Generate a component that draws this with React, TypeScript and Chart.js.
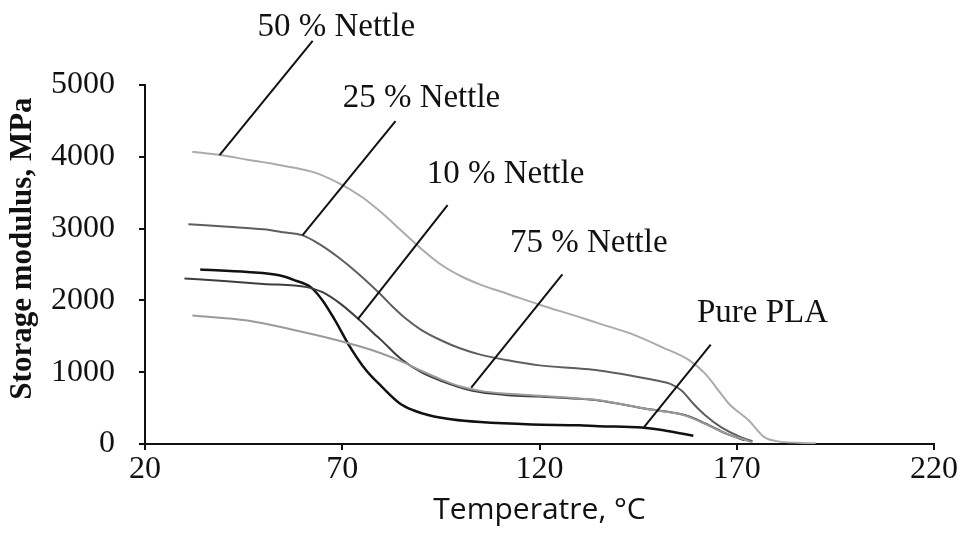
import React, { useEffect, useRef } from "react";
import { Chart, registerables } from "chart.js";

Chart.register(...registerables);

// ---- data (temperature °C, storage modulus MPa) ----
const pla_T = [34, 46, 54, 58, 62, 65, 68, 72, 76, 80, 84.6, 88, 92, 98, 105, 118, 130, 135, 146, 152, 159];
const pla_E = [2430, 2395, 2350, 2280, 2185, 2000, 1740, 1350, 1030, 800, 565, 470, 400, 340, 305, 272, 260, 248, 230, 185, 115];

const n10_T = [30, 40, 50, 61, 65, 69.5, 74.5, 78, 80, 85, 90, 95, 103, 112, 120, 130, 135, 147, 157, 162, 167.5, 172];
const n10_E = [2305, 2270, 2230, 2185, 2115, 1955, 1720, 1540, 1440, 1180, 1000, 880, 740, 680, 660, 630, 607, 490, 400, 285, 140, 50];

const n25_T = [31, 41, 50, 55, 60, 64, 69, 74, 79.5, 83, 86, 90, 95, 100, 105, 112, 120, 130, 135, 143, 150, 153, 156, 159, 162, 166, 171, 174];
const n25_E = [3060, 3025, 2990, 2950, 2905, 2790, 2600, 2375, 2095, 1900, 1750, 1590, 1445, 1330, 1245, 1165, 1095, 1050, 1025, 955, 880, 840, 745, 560, 400, 235, 95, 40];

const n50_T = [32, 39, 46, 54, 62.5, 68.5, 75, 80, 85, 90, 95, 100, 105, 112, 120, 130, 135, 143, 151, 158, 162, 166, 168, 173, 177, 180, 190];
const n50_E = [4070, 4025, 3960, 3885, 3790, 3650, 3440, 3220, 2970, 2720, 2500, 2340, 2220, 2090, 1940, 1770, 1680, 1540, 1350, 1165, 980, 700, 560, 330, 95, 40, 10];

const n75_T = [32, 46, 58, 67, 75, 80, 85, 90, 95, 100, 105, 112, 120, 130, 135, 147, 157, 162, 167.5, 172, 174];
const n75_E = [1790, 1720, 1585, 1470, 1350, 1260, 1150, 1020, 900, 800, 740, 700, 672, 635, 610, 490, 395, 280, 140, 60, 20];

const x_ticks_min = 20;
const x_ticks_max = 220;
const x_step = 50;
const y_min = 0;
const y_max = 5000;
const y_step = 1000;

const x_title = "Temperatre, °C";
const y_title = "Storage modulus, MPa";

// labels with leader lines (data coordinates)
const label_texts = ["50 % Nettle", "25 % Nettle", "10 % Nettle", "75 % Nettle", "Pure PLA"];
const label_T = [48.5, 70.1, 91.4, 112.5, 159.9];
const label_E = [5682, 4692, 3632, 2670, 1694];
const leader_T1 = [62.5, 83.5, 96.7, 125.8, 163.4];
const leader_E1 = [5614, 4498, 3326, 2363, 1383];
const leader_T2 = [38.9, 59.9, 73.9, 102.7, 146.5];
const leader_E2 = [4023, 2907, 1736, 784, 234];

const SERIF = "'Liberation Serif', 'Times New Roman', serif";

const toPts = (t: number[], e: number[]) => t.map((v, i) => ({ x: v, y: e[i] }));

const leaderPlugin = {
  id: "leaders",
  afterDatasetsDraw(chart: any) {
    const { ctx, scales, chartArea } = chart;
    const xs = scales.x;
    const ys = scales.y;
    ctx.save();
    ctx.strokeStyle = "#111";
    ctx.lineWidth = 2;
    for (let i = 0; i < leader_T1.length; i++) {
      ctx.beginPath();
      ctx.moveTo(xs.getPixelForValue(leader_T1[i]), ys.getPixelForValue(leader_E1[i]));
      ctx.lineTo(xs.getPixelForValue(leader_T2[i]), ys.getPixelForValue(leader_E2[i]));
      ctx.stroke();
    }
    ctx.fillStyle = "#111";
    ctx.font = `33px ${SERIF}`;
    ctx.textAlign = "left";
    ctx.textBaseline = "alphabetic";
    for (let i = 0; i < label_texts.length; i++) {
      ctx.fillText(label_texts[i], xs.getPixelForValue(label_T[i]), ys.getPixelForValue(label_E[i]));
    }
    // y axis title
    ctx.translate(23, (chartArea.top + chartArea.bottom) / 2 - 16);
    ctx.rotate(-Math.PI / 2);
    ctx.font = `bold 31px ${SERIF}`;
    ctx.textAlign = "center";
    ctx.textBaseline = "middle";
    ctx.fillText(y_title, 0, 0);
    ctx.restore();
  },
};

export default function App() {
  const ref = useRef<HTMLCanvasElement | null>(null);
  useEffect(() => {
    if (!ref.current) return;
    const mk = (label: string, t: number[], e: number[], color: string, w: number) => ({
      label,
      data: toPts(t, e),
      borderColor: color,
      backgroundColor: color,
      borderWidth: w,
      pointRadius: 0,
      fill: false,
      cubicInterpolationMode: "monotone" as const,
    });
    const chart = new Chart(ref.current, {
      type: "line",
      data: {
        datasets: [
          mk("75 % Nettle", n75_T, n75_E, "#9a9a9a", 2),
          mk("50 % Nettle", n50_T, n50_E, "#ababab", 2),
          mk("25 % Nettle", n25_T, n25_E, "#5e5e5e", 2),
          mk("10 % Nettle", n10_T, n10_E, "#3e3e3e", 2),
          mk("Pure PLA", pla_T, pla_E, "#111111", 2.5),
        ],
      },
      options: {
        animation: false,
        responsive: false,
        layout: { padding: { left: 0, top: 85, right: 27, bottom: 0 } },
        plugins: { legend: { display: false }, tooltip: { enabled: false } },
        scales: {
          x: {
            type: "linear",
            min: x_ticks_min,
            max: x_ticks_max,
            afterFit: (s: any) => {
              s.height = 93;
            },
            ticks: { stepSize: x_step, color: "#111", padding: 0, font: { family: SERIF, size: 32 } },
            grid: { drawOnChartArea: false, drawTicks: true, tickLength: 6, color: "#111", lineWidth: 2 },
            border: { display: true, color: "#111", width: 2 },
            title: {
              display: true,
              text: x_title,
              color: "#111",
              padding: { top: 0, bottom: 9 },
              font: { family: "'Open Sans', sans-serif", size: 30 },
            },
          },
          y: {
            type: "linear",
            min: y_min,
            max: y_max,
            afterFit: (s: any) => {
              s.width = 145;
            },
            ticks: {
              stepSize: y_step,
              color: "#111",
              padding: 24,
              font: { family: SERIF, size: 32 },
              callback: (v: any) => String(v),
            },
            grid: { drawOnChartArea: false, drawTicks: true, tickLength: 6, color: "#111", lineWidth: 2 },
            border: { display: true, color: "#111", width: 2 },
            title: { display: false },
          },
        },
      },
      plugins: [leaderPlugin],
    });
    return () => chart.destroy();
  }, []);
  return (
    <div style={{ position: "absolute", left: 0, top: 0, width: 961, height: 537, background: "#fff" }}>
      <canvas ref={ref} width={961} height={537} style={{ display: "block" }} />
    </div>
  );
}
